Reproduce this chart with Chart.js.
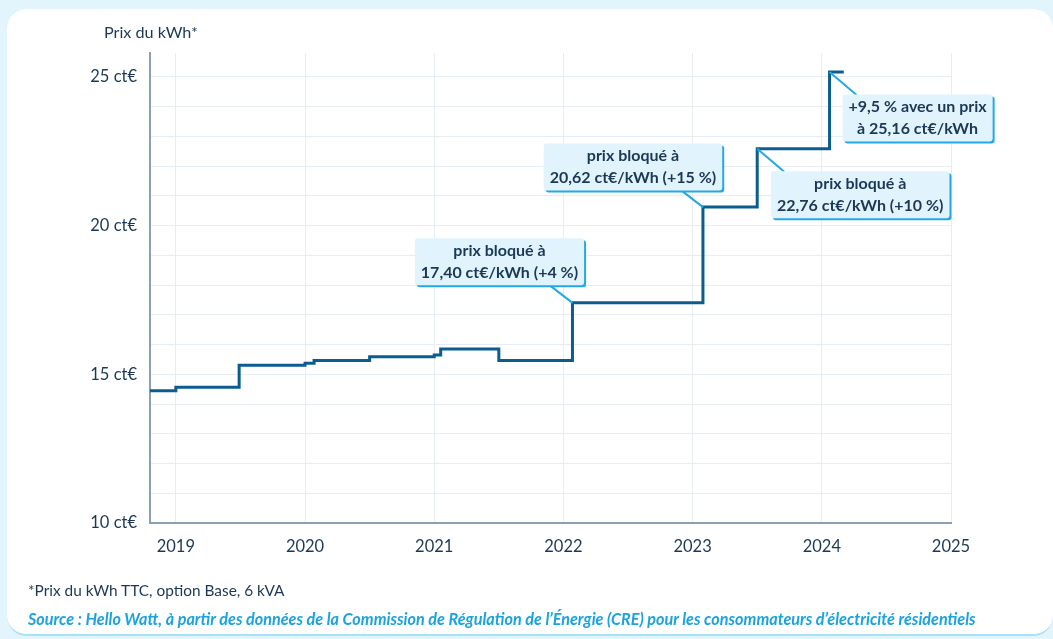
<!DOCTYPE html>
<html lang="fr">
<head>
<meta charset="utf-8">
<script src="https://cdn.jsdelivr.net/npm/chart.js@4/dist/chart.umd.min.js"></script>
<style>
  html, body { margin:0; padding:0; width:1053px; height:639px; overflow:hidden; background:#e2f5fd; font-family: Lato, "Open Sans", sans-serif; }
  #card { position:absolute; left:7px; top:9px; width:1046px; height:625px; background:#fff; border-radius:20px; border-bottom:2px solid #a6e2f8; }
  #wrap { position:absolute; left:0; top:0; width:1053px; height:639px; }
  #ytitle { position:absolute; left:104px; top:22px; font-size:16.2px; color:#1b3856; }
  #note { position:absolute; left:28px; top:581px; font-size:15.4px; color:#1b3856; }
  #source { position:absolute; left:28px; top:609px; font-size:16.2px; color:#1ba3e0; font-weight:bold; font-style:italic; }
</style>
</head>
<body>
<div id="card"></div>
<div id="wrap"><canvas id="c" width="1053" height="639"></canvas></div>
<div id="ytitle">Prix du kWh*</div>
<div id="note">*Prix du kWh TTC, option Base, 6 kVA</div>
<div id="source">Source : Hello Watt, à partir des données de la Commission de Régulation de l’Énergie (CRE) pour les consommateurs d’électricité résidentiels</div>
<script>
// Dates (decimal years) when the tariff changed, and price in ct€/kWh from that date
const dates  = [2018.8, 2019.0, 2019.49, 2020.0, 2020.07, 2020.5, 2021.0, 2021.05, 2021.5, 2022.07, 2023.08, 2023.5, 2024.06, 2024.17];
const prices = [14.45, 14.56, 15.30, 15.37, 15.46, 15.59, 15.65, 15.85, 15.46, 17.40, 20.62, 22.58, 25.16, 25.16];

const yearTicks = [2019, 2020, 2021, 2022, 2023, 2024, 2025];
const yLabelValues = [10, 15, 20, 25];

// Callouts anchored on step corners (data index)
const calloutIndex = [9, 10, 11, 12];
const calloutLines = [
  ["prix bloqué à", "17,40 ct€/kWh (+4 %)"],
  ["prix bloqué à", "20,62 ct€/kWh (+15 %)"],
  ["prix bloqué à", "22,76 ct€/kWh (+10 %)"],
  ["+9,5 % avec un prix", "à 25,16 ct€/kWh"]
];
// pixel placement of boxes relative to anchor (style only)
const calloutPlace = [
  {cx:-73, cy:-41, lx:-22, ly:-17},
  {cx:-70, cy:-40, lx:-22, ly:-17},
  {cx:103, cy:46, lx:27, ly:23},
  {cx:88,  cy:46, lx:27, ly:23}
];

const points = dates.map((d, i) => ({x: d, y: prices[i]}));

const calloutPlugin = {
  id: 'callouts',
  afterDatasetsDraw(chart) {
    const ctx = chart.ctx;
    const xs = chart.scales.x, ys = chart.scales.y;
    ctx.save();
    ctx.font = 'bold 16px Lato, "Open Sans", sans-serif';
    calloutIndex.forEach((idx, k) => {
      const ax = xs.getPixelForValue(dates[idx]);
      const ay = ys.getPixelForValue(prices[idx]);
      const p = calloutPlace[k];
      const lines = calloutLines[k];
      const tw = Math.max(...lines.map(t => ctx.measureText(t).width));
      const w = tw + 12, h = 47;
      const cx = ax + p.cx, cy = ay + p.cy;
      const x0 = cx - w/2, y0 = cy - h/2;
      // connector
      ctx.strokeStyle = '#23a8e2';
      ctx.lineWidth = 2;
      ctx.beginPath();
      ctx.moveTo(ax, ay);
      ctx.lineTo(ax + p.lx, ay + p.ly);
      ctx.stroke();
      // shadow
      ctx.fillStyle = '#23a8e2';
      ctx.beginPath(); ctx.roundRect(x0 + 2, y0 + 2, w, h, 3); ctx.fill();
      ctx.fillStyle = '#e1f4fd';
      ctx.beginPath(); ctx.roundRect(x0, y0, w, h, 3); ctx.fill();
      ctx.fillStyle = '#1b3856';
      ctx.textAlign = 'center';
      ctx.textBaseline = 'middle';
      ctx.fillText(lines[0], cx, cy - 11);
      ctx.fillText(lines[1], cx, cy + 11);
    });
    ctx.restore();
  }
};

new Chart(document.getElementById('c'), {
  type: 'line',
  data: {
    datasets: [{
      data: points,
      stepped: true,
      borderColor: '#0b5d8f',
      borderWidth: 3,
      pointRadius: 0,
      fill: false,
      borderJoinStyle: 'miter',
      borderCapStyle: 'butt'
    }]
  },
  options: {
    responsive: false,
    animation: false,
    layout: { padding: { left: 0, top: 53, right: 102, bottom: 0 } },
    plugins: { legend: { display: false }, tooltip: { enabled: false } },
    scales: {
      x: {
        type: 'linear',
        min: 2018.8,
        max: 2025,
        afterBuildTicks: s => { s.ticks = yearTicks.map(v => ({value: v})); },
        afterFit: s => { s.height = 116; },
        ticks: { padding: 14, color: '#1b3856', font: { family: 'Lato', size: 16.5 }, maxRotation: 0, autoSkip: false, callback: v => String(v) },
        grid: { color: '#e6edf3', lineWidth: 1, drawTicks: false },
        border: { color: '#8aa1b5', width: 2 }
      },
      y: {
        type: 'linear',
        min: 10,
        max: 25.8,
        ticks: { stepSize: 1, includeBounds: false, padding: 13, color: '#1b3856', font: { family: 'Lato', size: 16.5 },
                 callback: v => yLabelValues.includes(v) ? v + ' ct€' : '' },
        afterFit: s => { s.width = 150; },
        grid: { color: '#e6edf3', lineWidth: 1, drawTicks: false },
        border: { color: '#8aa1b5', width: 2 }
      }
    }
  },
  plugins: [calloutPlugin]
});
</script>
</body>
</html>
